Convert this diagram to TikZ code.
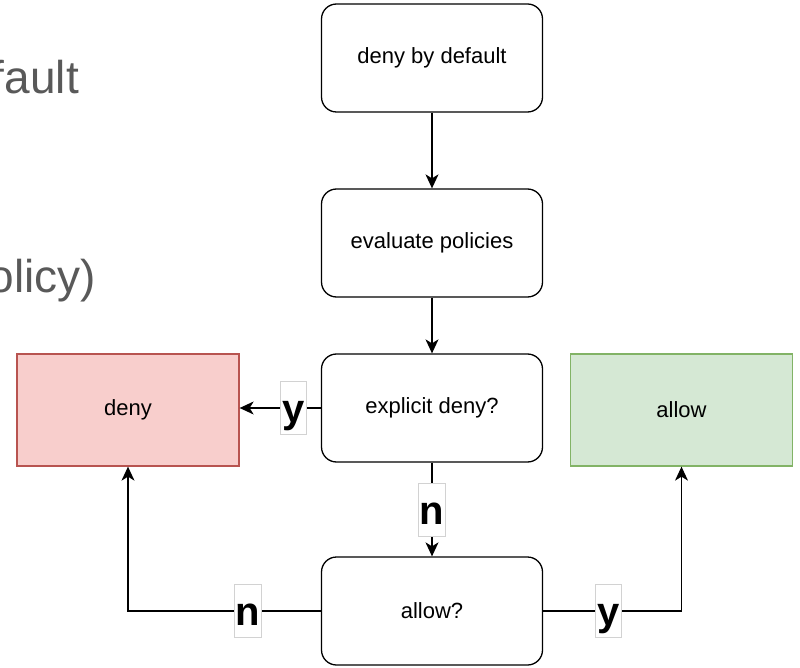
\documentclass[tikz,border=0pt]{standalone}
\usepackage{fontspec}
\setmainfont{Liberation Sans}
\usepackage{xcolor}
\usetikzlibrary{arrows.meta, positioning, calc}

\definecolor{denyfill}{HTML}{F8CECC}
\definecolor{denyline}{HTML}{B85450}
\definecolor{allowfill}{HTML}{D5E8D4}
\definecolor{allowline}{HTML}{82B366}
\definecolor{slidegray}{HTML}{595959}

\tikzset{
  stepbox/.style={draw, line width=1.3pt, rounded corners=15pt, minimum width=221pt,
    minimum height=108pt, font=\fontsize{22}{26}\selectfont},
  endbox/.style={draw, line width=1.3pt, minimum width=222pt, minimum height=112pt,
    font=\fontsize{22}{26}\selectfont},
  flow/.style={line width=1.3pt, -{Stealth[length=14pt, width=13pt, inset=4pt]}},
  answer/.style={fill=white, draw=gray!35, line width=0.5pt, inner xsep=1.5pt, inner ysep=1pt,
    text height=40pt, text depth=11pt, font=\fontsize{40}{44}\selectfont\bfseries},
}

\begin{document}
\begin{tikzpicture}[x=1pt, y=-1pt]
  \useasboundingbox (0,0) rectangle (800,668);

  % Slide text behind the chart
  \node[anchor=base east, inner sep=0pt, text=slidegray, font=\fontsize{46}{50}\selectfont]
    (slideA) at (79,94) {fault};
  \node[anchor=base east, inner sep=0pt, text=slidegray, font=\fontsize{46}{50}\selectfont]
    (slideB) at (96,292) {policy)};

  % Steps
  \node[stepbox] (default) at (432,58) {deny by default};
  \node[stepbox] (evaluate) at (432,243) {evaluate policies};
  \node[stepbox] (explicit) at (432,408) {explicit deny?};
  \node[stepbox] (allowq) at (432,611) {allow?};

  % Outcomes
  \node[endbox, fill=denyfill, draw=denyline] (deny) at (128,410) {deny};
  \node[endbox, fill=allowfill, draw=allowline] (allow) at (681.5,410) {allow};

  % Arrows
  \draw[flow] (default) -- (evaluate);
  \draw[flow] (evaluate) -- (explicit);
  \draw[flow] (explicit.west) -- node[answer, pos=0.34] {y} (deny.east |- explicit.west);
  \draw[flow] (explicit) -- node[answer] {n} (allowq);
  \draw[flow] (allowq.west) -| node[answer, pos=0.19] {n} (deny.south);
  \draw[flow] (allowq.east) -| node[answer, pos=0.235] {y} (allow.south);
\end{tikzpicture}
\end{document}
